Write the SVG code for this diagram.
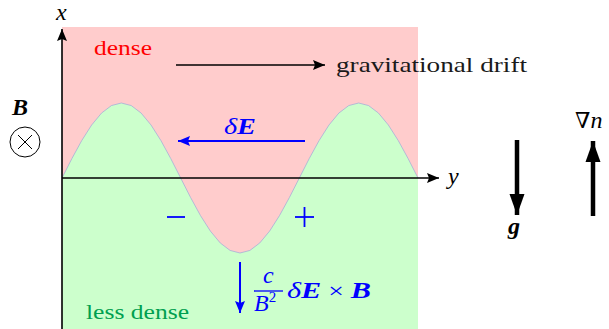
<svg xmlns="http://www.w3.org/2000/svg" width="609" height="329" viewBox="0 0 609 329">
<style>
.rm{font-family:"Liberation Serif","DejaVu Serif",serif;font-size:22px}
.mi{font-family:"Liberation Serif","DejaVu Serif",serif;font-style:italic;font-size:24px}
.bi{font-family:"Liberation Serif","DejaVu Serif",serif;font-style:italic;font-weight:bold;font-size:24px}
.ax{stroke:#000;stroke-width:1.6;fill:none}
.thick{stroke:#000;stroke-width:4.5;fill:none}
.bl{stroke:#0000ff;fill:none}
</style>
<defs>
<marker id="ah" markerUnits="userSpaceOnUse" markerWidth="14" markerHeight="12" refX="12" refY="5" orient="auto" viewBox="0 0 14 10">
<path d="M0,0 L12,5 L0,10 L2,5 Z" fill="#000"/>
</marker>
<marker id="ahb" markerUnits="userSpaceOnUse" markerWidth="14" markerHeight="12" refX="12" refY="5" orient="auto" viewBox="0 0 14 10">
<path d="M0,0 L12,5 L0,10 L2,5 Z" fill="#0000ff"/>
</marker>
<marker id="ahk" markerUnits="userSpaceOnUse" markerWidth="22" markerHeight="16" refX="21" refY="7.5" orient="auto" viewBox="0 0 22 15">
<path d="M0,0 L21,7.5 L0,15 Z" fill="#000"/>
</marker>
</defs>
<g id="regions">
<rect x="62" y="27" width="356" height="240" fill="#ffcccc"/>
<path fill="#ccffcc" d="M62,178 L71.89,158.59 L81.78,140.5 L91.67,124.97 L101.56,113.05 L111.44,105.56 L121.33,103 L131.22,105.56 L141.11,113.05 L151,124.97 L160.89,140.5 L170.78,158.59 L180.67,178 L190.56,197.41 L200.44,215.5 L210.33,231.03 L220.22,242.95 L230.11,250.44 L240,253 L249.89,250.44 L259.78,242.95 L269.67,231.03 L279.56,215.5 L289.44,197.41 L299.33,178 L309.22,158.59 L319.11,140.5 L329,124.97 L338.89,113.05 L348.78,105.56 L358.67,103 L368.56,105.56 L378.44,113.05 L388.33,124.97 L398.22,140.5 L408.11,158.59 L418,178 L418,329 L62,329 Z"/>
<polyline fill="none" stroke="#9fa8d8" stroke-width="0.7" points="62,178 71.89,158.59 81.78,140.5 91.67,124.97 101.56,113.05 111.44,105.56 121.33,103 131.22,105.56 141.11,113.05 151,124.97 160.89,140.5 170.78,158.59 180.67,178 190.56,197.41 200.44,215.5 210.33,231.03 220.22,242.95 230.11,250.44 240,253 249.89,250.44 259.78,242.95 269.67,231.03 279.56,215.5 289.44,197.41 299.33,178 309.22,158.59 319.11,140.5 329,124.97 338.89,113.05 348.78,105.56 358.67,103 368.56,105.56 378.44,113.05 388.33,124.97 398.22,140.5 408.11,158.59 418,178"/>
</g>
<g id="connectors">
<line class="ax" x1="62" y1="329" x2="62" y2="29" marker-end="url(#ah)"/>
<line class="ax" x1="62" y1="178" x2="439" y2="178" marker-end="url(#ah)"/>
<line class="ax" x1="176" y1="65" x2="325" y2="65" marker-end="url(#ah)"/>
<line class="bl" stroke-width="2" x1="305" y1="141" x2="178" y2="141" marker-end="url(#ahb)"/>
<line class="bl" stroke-width="2" x1="240" y1="262" x2="240" y2="313" marker-end="url(#ahb)"/>
<line class="thick" x1="517" y1="140" x2="517" y2="215" marker-end="url(#ahk)"/>
<line class="thick" x1="593" y1="216" x2="593" y2="141" marker-end="url(#ahk)"/>
</g>
<g id="labels">
<text class="mi" x="56" y="20" font-size="21">x</text>
<text class="mi" x="448" y="184" font-size="21">y</text>
<text class="rm" x="94" y="55" fill="#ff0000" textLength="58" lengthAdjust="spacingAndGlyphs">dense</text>
<text class="rm" x="86" y="319" fill="#00a050" textLength="103" lengthAdjust="spacingAndGlyphs">less dense</text>
<text class="rm" x="336" y="72" fill="#1a1a1a" textLength="191" lengthAdjust="spacingAndGlyphs">gravitational drift</text>
<text x="224" y="134" fill="#0000ff" textLength="32" lengthAdjust="spacingAndGlyphs"><tspan class="mi">δ</tspan><tspan class="bi">E</tspan></text>
<line class="bl" x1="167" y1="217" x2="185" y2="217" stroke-width="1.8"/>
<line class="bl" x1="295" y1="217" x2="314" y2="217" stroke-width="1.8"/>
<line class="bl" x1="304.5" y1="207" x2="304.5" y2="227" stroke-width="1.8"/>
<text class="mi" x="263" y="283" fill="#0000ff">c</text>
<line class="bl" x1="254" y1="291" x2="283" y2="291" stroke-width="1.3"/>
<text class="mi" x="254" y="311" fill="#0000ff">B<tspan font-size="15" dy="-9" font-style="normal">2</tspan></text>
<text x="287" y="298" fill="#0000ff" textLength="84" lengthAdjust="spacingAndGlyphs"><tspan class="mi">δ</tspan><tspan class="bi">E</tspan><tspan class="rm" font-size="24"> × </tspan><tspan class="bi">B</tspan></text>
<text class="bi" x="12" y="115" font-size="26">B</text>
<circle cx="25" cy="142" r="15" fill="none" stroke="#000" stroke-width="1"/>
<line x1="18" y1="135" x2="32" y2="149" stroke="#000" stroke-width="1"/>
<line x1="32" y1="135" x2="18" y2="149" stroke="#000" stroke-width="1"/>
<text class="bi" x="508" y="234" font-size="25">g</text>
<text x="575" y="128"><tspan class="rm">∇</tspan><tspan class="mi" font-size="22">n</tspan></text>
</g>
</svg>
